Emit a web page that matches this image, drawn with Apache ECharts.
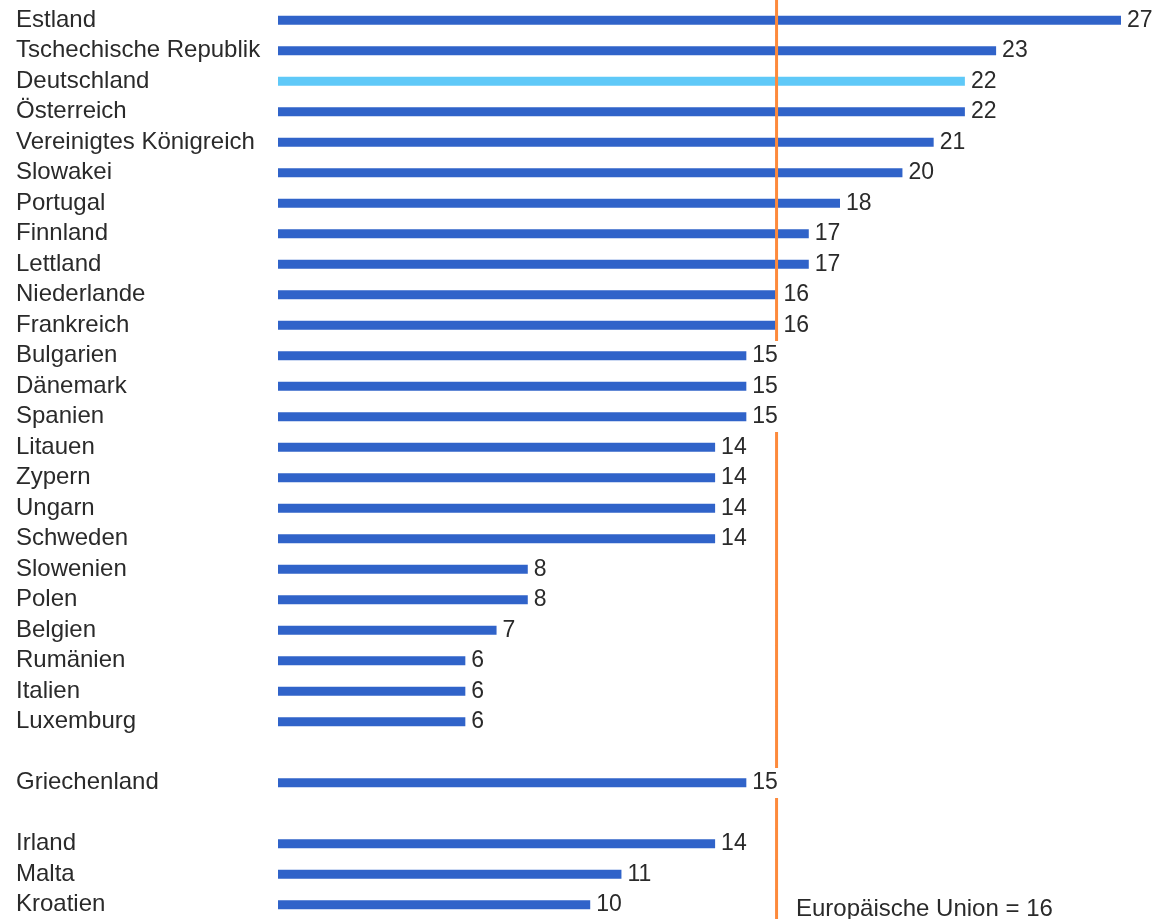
<!DOCTYPE html>
<html>
<head>
<meta charset="utf-8">
<script src="https://cdn.jsdelivr.net/npm/echarts@6/dist/echarts.min.js"></script>
<style>
  html, body { margin: 0; padding: 0; background: #fff; }
  #chart { width: 1163px; height: 919px; }
</style>
</head>
<body>
<div id="chart"></div>
<script>
// ---- data ----
const categories = [
  'Estland', 'Tschechische Republik', 'Deutschland', 'Österreich',
  'Vereinigtes Königreich', 'Slowakei', 'Portugal', 'Finnland', 'Lettland',
  'Niederlande', 'Frankreich', 'Bulgarien', 'Dänemark', 'Spanien',
  'Litauen', 'Zypern', 'Ungarn', 'Schweden', 'Slowenien', 'Polen',
  'Belgien', 'Rumänien', 'Italien', 'Luxemburg',
  ' ', 'Griechenland', '  ', 'Irland', 'Malta', 'Kroatien'
];
const values = [
  27, 23, 22, 22, 21, 20, 18, 17, 17, 16, 16, 15, 15, 15,
  14, 14, 14, 14, 8, 8, 7, 6, 6, 6,
  null, 15, null, 14, 11, 10
];
const highlighted = ['Deutschland'];
const euAverage = 16;
const euLabel = 'Europäische Union = 16';

const FONT = '"Liberation Sans", Arial, sans-serif';
const TEXT_COLOR = '#2a2a2a';
const BAR_COLOR = '#3063c9';
const HIGHLIGHT_COLOR = '#5fc9f8';
const LINE_COLOR = '#fd8a3c';

const barData = values.map((v, i) => v === null ? null : {
  value: v,
  itemStyle: { color: highlighted.includes(categories[i]) ? HIGHLIGHT_COLOR : BAR_COLOR }
});

// reference line, interrupted where a value label crosses it
const lineData = categories.map((c, i) => {
  const v = values[i];
  const covered = (v !== null && v < euAverage && v >= euAverage - 1.5) ? 1 : 0;
  return [euAverage, i, covered];
});

const chart = echarts.init(document.getElementById('chart'), null, { renderer: 'canvas' });
chart.setOption({
  animation: false,
  backgroundColor: '#fff',
  grid: { left: 278, right: 42, top: 5, bottom: -1, outerBoundsMode: 'none', containLabel: false },
  xAxis: {
    type: 'value', min: 0, max: 27, show: false
  },
  yAxis: {
    type: 'category',
    data: categories,
    inverse: true,
    axisLine: { show: false },
    axisTick: { show: false },
    splitLine: { show: false },
    axisLabel: {
      interval: 0,
      hideOverlap: false,
      align: 'left',
      margin: 262,
      fontFamily: FONT,
      fontSize: 24,
      color: TEXT_COLOR
    }
  },
  series: [
    {
      type: 'bar',
      data: barData,
      barWidth: 9,
      label: {
        show: true,
        position: 'right',
        distance: 6,
        fontFamily: FONT,
        fontSize: 23,
        color: TEXT_COLOR
      },
      z: 2
    },
    {
      type: 'custom',
      data: lineData,
      encode: { x: 0, y: 1 },
      z: 3,
      silent: true,
      renderItem: function (params, api) {
        if (api.value(2)) return null;
        const p = api.coord([api.value(0), api.value(1)]);
        const h = api.size([0, 1])[1];
        const ext = params.dataIndex === 0 ? 6 : 0;
        return {
          type: 'rect',
          shape: { x: p[0] - 2.5, y: p[1] - h / 2 - ext, width: 3, height: h + ext + 0.5 },
          style: { fill: LINE_COLOR }
        };
      }
    }
  ],
  graphic: [
    {
      type: 'text',
      left: 796,
      top: 897,
      style: { text: euLabel, fontFamily: FONT, fontSize: 24, fill: TEXT_COLOR }
    }
  ]
});
</script>
</body>
</html>
